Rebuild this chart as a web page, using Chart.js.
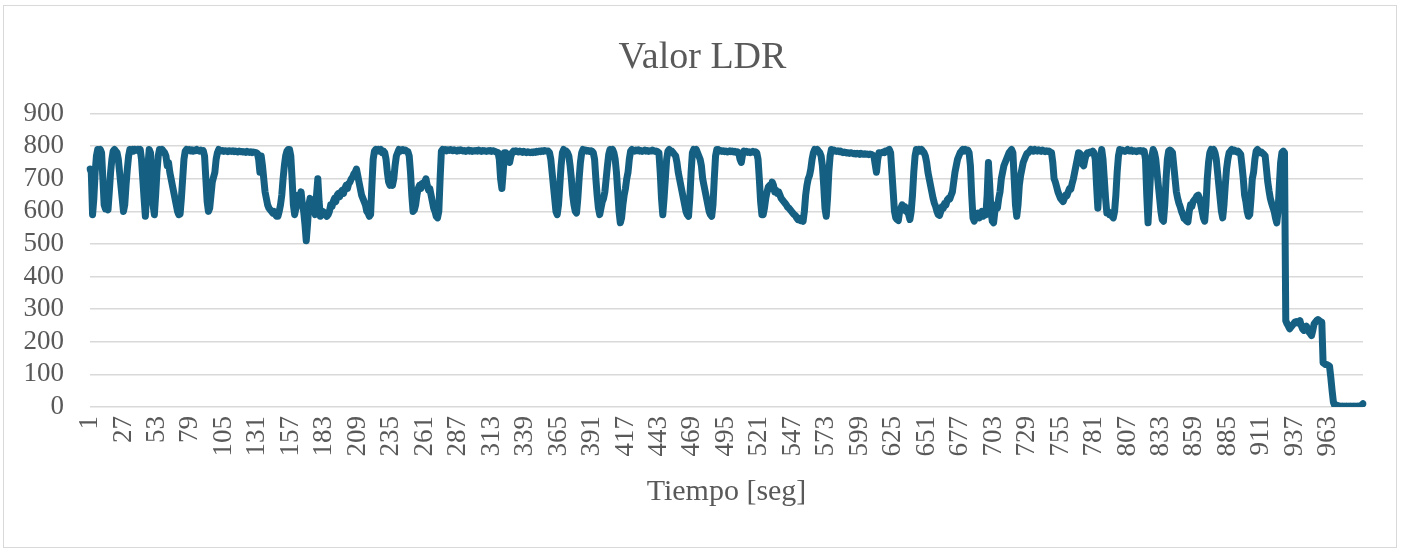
<!DOCTYPE html>
<html lang="es">
<head>
    <meta charset="UTF-8">
    <title>Valor LDR</title>
    <script src="https://cdn.jsdelivr.net/npm/chart.js"></script>
    <style>
        body {
            margin: 0;
            background: #ffffff;
        }
        .wrap {
            position: relative;
            width: 1405px;
            height: 555px;
        }
        .frame {
            position: absolute;
            left: 3px;
            top: 5px;
            width: 1392px;
            height: 541px;
            border: 1px solid #d9d9d9;
        }
        canvas {
            position: absolute;
            left: 0;
            top: 0;
        }
    </style>
</head>
<body>
    <div class="wrap">
        <div class="frame"></div>
        <canvas id="ldrChart" width="1405" height="555"></canvas>
    </div>

    <script>
        const ldr000 = [
            730, 720, 590, 640, 720, 770, 790, 785, 790, 780,
            700, 620, 608, 610, 605, 660, 720, 760, 785, 790,
            785, 780, 760, 720, 680, 640, 600, 620, 680, 730,
            770, 790, 785, 790, 785, 790, 788, 790, 785, 790,
            760, 700, 640, 585, 650, 740, 790, 780, 700, 620,
            590, 650, 720, 770, 790, 785, 790, 785, 780, 770,
            740, 750, 720, 700, 680, 660, 640, 620, 600, 590,
            592, 640, 700, 760, 785, 790, 788, 790, 786, 789,
            785, 788, 786, 790, 787, 785, 788, 784, 786, 770,
            700, 630, 600, 610, 650, 690, 705, 720, 760, 780
        ];
        const ldr100 = [
            790, 786, 785, 787, 784, 786, 785, 783, 786, 785,
            784, 786, 783, 785, 784, 782, 785, 783, 784, 782,
            783, 781, 784, 782, 781, 783, 780, 782, 781, 780,
            778, 760, 720, 770, 740, 700, 660, 640, 620, 610,
            605, 600, 595, 600, 590, 585, 585, 600, 620, 650,
            700, 740, 770, 785, 790, 790, 770, 700, 620, 590,
            610, 630, 650, 640, 660, 620, 600, 560, 510, 560,
            620, 640, 620, 600, 610, 590, 650, 700, 630, 585,
            590, 600, 595, 590, 585, 590, 600, 620, 615, 630,
            640, 630, 650, 655, 645, 660, 665, 655, 670, 680
        ];
        const ldr200 = [
            670, 685, 690, 700, 705, 715, 720, 730, 710, 690,
            670, 650, 640, 630, 620, 600, 595, 585, 590, 680,
            760, 785, 790, 785, 790, 785, 790, 780, 785, 780,
            760, 720, 690, 680, 685, 680, 700, 740, 770, 780,
            790, 785, 788, 790, 786, 788, 785, 783, 770, 720,
            650, 600, 605, 620, 650, 670, 680, 670, 685, 680,
            690, 700, 680, 665, 670, 650, 630, 610, 600, 585,
            580, 600, 700, 785, 790, 788, 790, 786, 789, 787,
            790, 788, 786, 789, 787, 785, 788, 786, 789, 787,
            785, 787, 784, 786, 788, 785, 787, 784, 786, 785
        ];
        const ldr300 = [
            787, 785, 788, 786, 784, 787, 785, 786, 784, 786,
            785, 787, 784, 786, 785, 783, 782, 780, 760, 700,
            670, 720, 780, 780, 775, 760, 750, 770, 780, 785,
            783, 786, 784, 782, 785, 783, 781, 784, 782, 780,
            783, 781, 780, 782, 780, 783, 781, 784, 782, 785,
            783, 786, 784, 787, 785, 785, 785, 780, 760, 720,
            680, 640, 600, 590, 620, 680, 740, 780, 790, 785,
            785, 780, 770, 740, 700, 650, 620, 600, 595, 640,
            700, 750, 780, 790, 786, 788, 785, 787, 784, 786,
            785, 780, 760, 700, 650, 610, 590, 610, 630, 640
        ];
        const ldr400 = [
            660, 700, 740, 775, 790, 785, 790, 780, 760, 720,
            660, 600, 565, 580, 620, 650, 670, 700, 720, 760,
            785, 790, 787, 785, 788, 786, 789, 785, 787, 784,
            786, 788, 785, 787, 784, 786, 785, 788, 786, 784,
            785, 783, 780, 720, 640, 590, 640, 700, 760, 785,
            790, 785, 785, 780, 775, 770, 750, 720, 700, 680,
            660, 640, 620, 600, 590, 585, 640, 720, 780, 790,
            785, 790, 780, 770, 760, 740, 700, 680, 660, 640,
            620, 600, 590, 585, 620, 700, 770, 790, 790, 785,
            787, 784, 786, 783, 785, 782, 784, 786, 783, 785
        ];
        const ldr500 = [
            782, 784, 781, 783, 780, 760, 750, 775, 785, 782,
            784, 781, 783, 780, 782, 784, 781, 783, 780, 760,
            700, 630, 590, 590, 610, 640, 660, 675, 680, 670,
            690, 680, 660, 665, 655, 660, 650, 640, 635, 630,
            625, 620, 613, 610, 605, 600, 595, 590, 588, 580,
            575, 578, 572, 575, 570, 600, 650, 680, 700, 710,
            730, 760, 780, 790, 785, 790, 785, 780, 770, 740,
            680, 610, 585, 640, 720, 770, 790, 785, 788, 785,
            784, 786, 783, 785, 782, 780, 782, 781, 779, 780,
            778, 780, 779, 777, 778, 776, 778, 777, 775, 778
        ];
        const ldr600 = [
            776, 775, 777, 775, 776, 774, 776, 775, 773, 770,
            745, 720, 760, 780, 778, 780, 782, 780, 785, 783,
            788, 790, 780, 720, 660, 600, 580, 575, 572, 600,
            610, 620, 605, 615, 600, 610, 590, 575, 600, 650,
            720, 770, 790, 785, 790, 785, 790, 785, 780, 770,
            750, 720, 700, 680, 660, 640, 625, 615, 600, 590,
            588, 600, 615, 610, 625, 620, 635, 640, 638, 650,
            660, 690, 720, 740, 760, 770, 780, 785, 790, 785,
            790, 785, 788, 780, 740, 650, 580, 570, 590, 585,
            595, 580, 590, 600, 585, 595, 590, 650, 750, 680
        ];
        const ldr700 = [
            600, 570, 565, 600, 620, 610, 640, 660, 700, 720,
            740, 750, 760, 770, 780, 785, 790, 780, 700, 620,
            585, 620, 680, 710, 730, 750, 760, 770, 778, 780,
            785, 790, 788, 785, 790, 787, 785, 789, 786, 784,
            788, 785, 783, 786, 784, 785, 782, 780, 750, 700,
            690, 675, 660, 650, 640, 635, 630, 640, 650, 648,
            660, 670, 668, 685, 700, 720, 740, 760, 780, 778,
            760, 745, 740, 760, 775, 780, 778, 782, 780, 785,
            780, 760, 680, 610, 680, 760, 790, 760, 700, 640,
            595, 600, 590, 595, 585, 580, 600, 650, 720, 770
        ];
        const ldr800 = [
            790, 785, 788, 786, 784, 787, 790, 786, 785, 788,
            784, 786, 785, 783, 786, 785, 787, 784, 786, 785,
            760, 650, 565, 640, 720, 770, 790, 780, 760, 720,
            680, 640, 600, 575, 570, 620, 700, 760, 785, 788,
            785, 780, 740, 700, 660, 640, 625, 614, 600, 590,
            578, 575, 570, 568, 600, 620, 615, 630, 635, 640,
            648, 650, 640, 620, 600, 580, 570, 620, 700, 750,
            780, 790, 785, 790, 780, 760, 720, 680, 640, 600,
            580, 620, 680, 730, 760, 780, 785, 790, 785, 788,
            785, 782, 785, 780, 775, 740, 700, 650, 630, 600
        ];
        const ldr900 = [
            585, 590, 640, 700, 720, 760, 785, 790, 785, 780,
            782, 778, 775, 770, 730, 690, 663, 640, 625, 612,
            600, 580, 565, 600, 680, 750, 780, 785, 780, 265,
            255, 248, 240, 245, 250, 255, 260, 262, 258, 262,
            265, 250, 240, 235, 245, 248, 240, 230, 225, 219,
            235, 255, 260, 265, 268, 265, 262, 260, 135, 133,
            130, 130, 128, 125, 90, 50, 15, 5, 3, 5,
            2, 3, 2, 3, 2, 2, 3, 2, 2, 3,
            2, 2, 3, 2, 2, 3, 2, 4, 6, 10
        ];

        // Etiquetas visibles del eje X (cada 26 s)
        const xTickLabels = [1, 27, 53, 79, 105, 131, 157, 183, 209, 235, 261, 287, 313,
            339, 365, 391, 417, 443, 469, 495, 521, 547, 573, 599, 625, 651, 677, 703,
            729, 755, 781, 807, 833, 859, 885, 911, 937, 963];
        const yTicks = { min: 0, max: 900, step: 100 };

        const ldr = [].concat(ldr000, ldr100, ldr200, ldr300, ldr400,
            ldr500, ldr600, ldr700, ldr800, ldr900);
        const segundos = ldr.map((_, i) => i + 1);
        const shown = new Set(xTickLabels);

        const textColor = '#595959';
        const serif = "'Liberation Serif', 'Times New Roman', serif";
        Chart.defaults.font.family = serif;
        Chart.defaults.color = textColor;

        const ctx = document.getElementById('ldrChart').getContext('2d');
        new Chart(ctx, {
            type: 'line',
            data: {
                labels: segundos,
                datasets: [{
                    label: 'Valor LDR',
                    data: ldr,
                    borderColor: '#156082',
                    borderWidth: 7,
                    borderJoinStyle: 'round',
                    borderCapStyle: 'round',
                    pointRadius: 0,
                    tension: 0,
                    fill: false
                }]
            },
            options: {
                responsive: false,
                animation: false,
                devicePixelRatio: 1,
                layout: { padding: 0 },
                plugins: {
                    legend: { display: false },
                    tooltip: { enabled: false },
                    title: {
                        display: true,
                        text: 'Valor LDR',
                        color: textColor,
                        font: { family: serif, size: 38, weight: 'normal' },
                        padding: { top: 35, bottom: 33 }
                    }
                },
                scales: {
                    x: {
                        type: 'category',
                        offset: false,
                        grid: { display: false, drawTicks: false },
                        border: { display: false },
                        ticks: {
                            autoSkip: false,
                            minRotation: 90,
                            maxRotation: 90,
                            padding: 9,
                            color: textColor,
                            font: { size: 27 },
                            callback: function (value) {
                                const lab = this.getLabelForValue(value);
                                return shown.has(lab) ? String(lab) : '';
                            }
                        },
                        title: {
                            display: true,
                            text: 'Tiempo [seg]',
                            color: textColor,
                            font: { size: 30 },
                            padding: { top: 0, bottom: 45 }
                        },
                        afterFit: function (scale) { scale.height = 148; }
                    },
                    y: {
                        min: yTicks.min,
                        max: yTicks.max,
                        grid: { color: '#d9d9d9', lineWidth: 1.5, drawTicks: false },
                        border: { display: false },
                        ticks: {
                            stepSize: yTicks.step,
                            autoSkip: false,
                            padding: 26,
                            color: textColor,
                            font: { size: 27 }
                        },
                        afterFit: function (scale) { scale.width = 90; }
                    },
                    // margen derecho vacio del area de trazado
                    margen: {
                        type: 'linear',
                        position: 'right',
                        grid: { display: false, drawTicks: false },
                        border: { display: false },
                        ticks: { display: false },
                        afterFit: function (scale) { scale.width = 42; }
                    }
                }
            }
        });
    </script>
</body>
</html>
